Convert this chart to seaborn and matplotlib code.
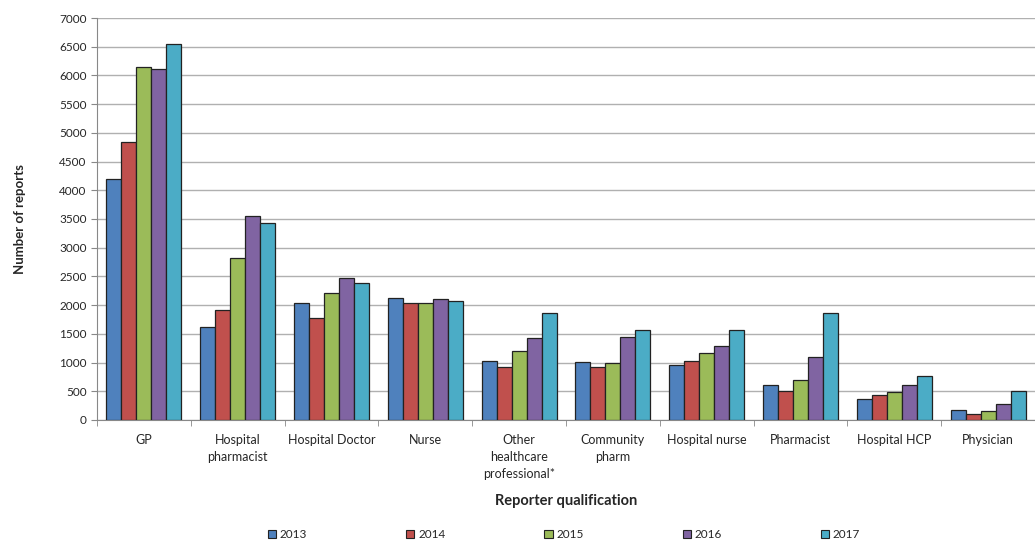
import pandas as pd
import numpy as np
import matplotlib.pyplot as plt
import seaborn as sns

categories = ["GP", "Hospital\npharmacist", "Hospital Doctor", "Nurse",
              "Other\nhealthcare\nprofessional*", "Community\npharm",
              "Hospital nurse", "Pharmacist", "Hospital HCP", "Physician"]
years = ["2013", "2014", "2015", "2016", "2017"]

reports_2013 = [4200, 1620, 2030, 2120, 1020, 1010, 960, 610, 370, 170]
reports_2014 = [4840, 1920, 1770, 2040, 930, 920, 1020, 510, 440, 100]
reports_2015 = [6150, 2820, 2210, 2040, 1200, 990, 1160, 700, 480, 160]
reports_2016 = [6120, 3560, 2470, 2110, 1420, 1440, 1290, 1100, 610, 270]
reports_2017 = [6550, 3430, 2390, 2080, 1870, 1570, 1560, 1860, 760, 510]

colors = ["#4F81BD", "#C0504D", "#9BBB59", "#8064A2", "#4BACC6"]

rows = []
for year, vals in zip(years, [reports_2013, reports_2014, reports_2015,
                              reports_2016, reports_2017]):
    for cat, v in zip(categories, vals):
        rows.append({"qualification": cat, "year": year, "reports": v})
df = pd.DataFrame(rows)

sns.set_style("white")
plt.rcParams['font.family'] = ['Lato', 'DejaVu Sans']

fig = plt.figure(figsize=(10.35, 5.41), dpi=100)
ax = fig.add_axes([0.0937, 0.2237, 0.9063, 0.743])

sns.barplot(data=df, x="qualification", y="reports", hue="year",
            palette=colors, width=0.8, edgecolor="#222222", linewidth=0.9,
            saturation=1, ax=ax, zorder=3)

ax.set_ylim(0, 7000)
ax.set_yticks(np.arange(0, 7001, 500))
ax.yaxis.grid(True, color="#b0b0b0", linewidth=1, zorder=0)
ax.set_axisbelow(True)
ax.set_xlim(-0.5, len(categories) - 0.5)

for side in ["top", "right"]:
    ax.spines[side].set_visible(False)
for side in ["left", "bottom"]:
    ax.spines[side].set_color("#888888")

ax.tick_params(axis="y", labelsize=8.5, length=4, color="#888888", direction="out", left=True)
ax.tick_params(axis="x", labelsize=9, length=0, pad=10)
ax.set_xticks(np.arange(-0.5, len(categories), 1), minor=True)
ax.tick_params(axis="x", which="minor", length=4, color="#888888", bottom=True)
for lab in ax.get_xticklabels():
    lab.set_verticalalignment("top")
    lab.set_linespacing(1.5)

ax.set_ylabel("Number of reports", fontsize=9.5, fontweight="bold", labelpad=24)
ax.set_xlabel("Reporter qualification", fontsize=10.5, fontweight="bold", labelpad=10)

ax.legend_.remove()
handles = [plt.Rectangle((0, 0), 1, 1, facecolor=c, edgecolor="#222222", linewidth=0.8)
           for c in colors]
fig.legend(handles, years, loc="center", bbox_to_anchor=(0.545, 0.012), ncol=5,
           frameon=False, fontsize=8.5, handlelength=0.7, handleheight=0.7,
           handletextpad=0.3, columnspacing=8.4)

fig.savefig("out.png", dpi=100)
